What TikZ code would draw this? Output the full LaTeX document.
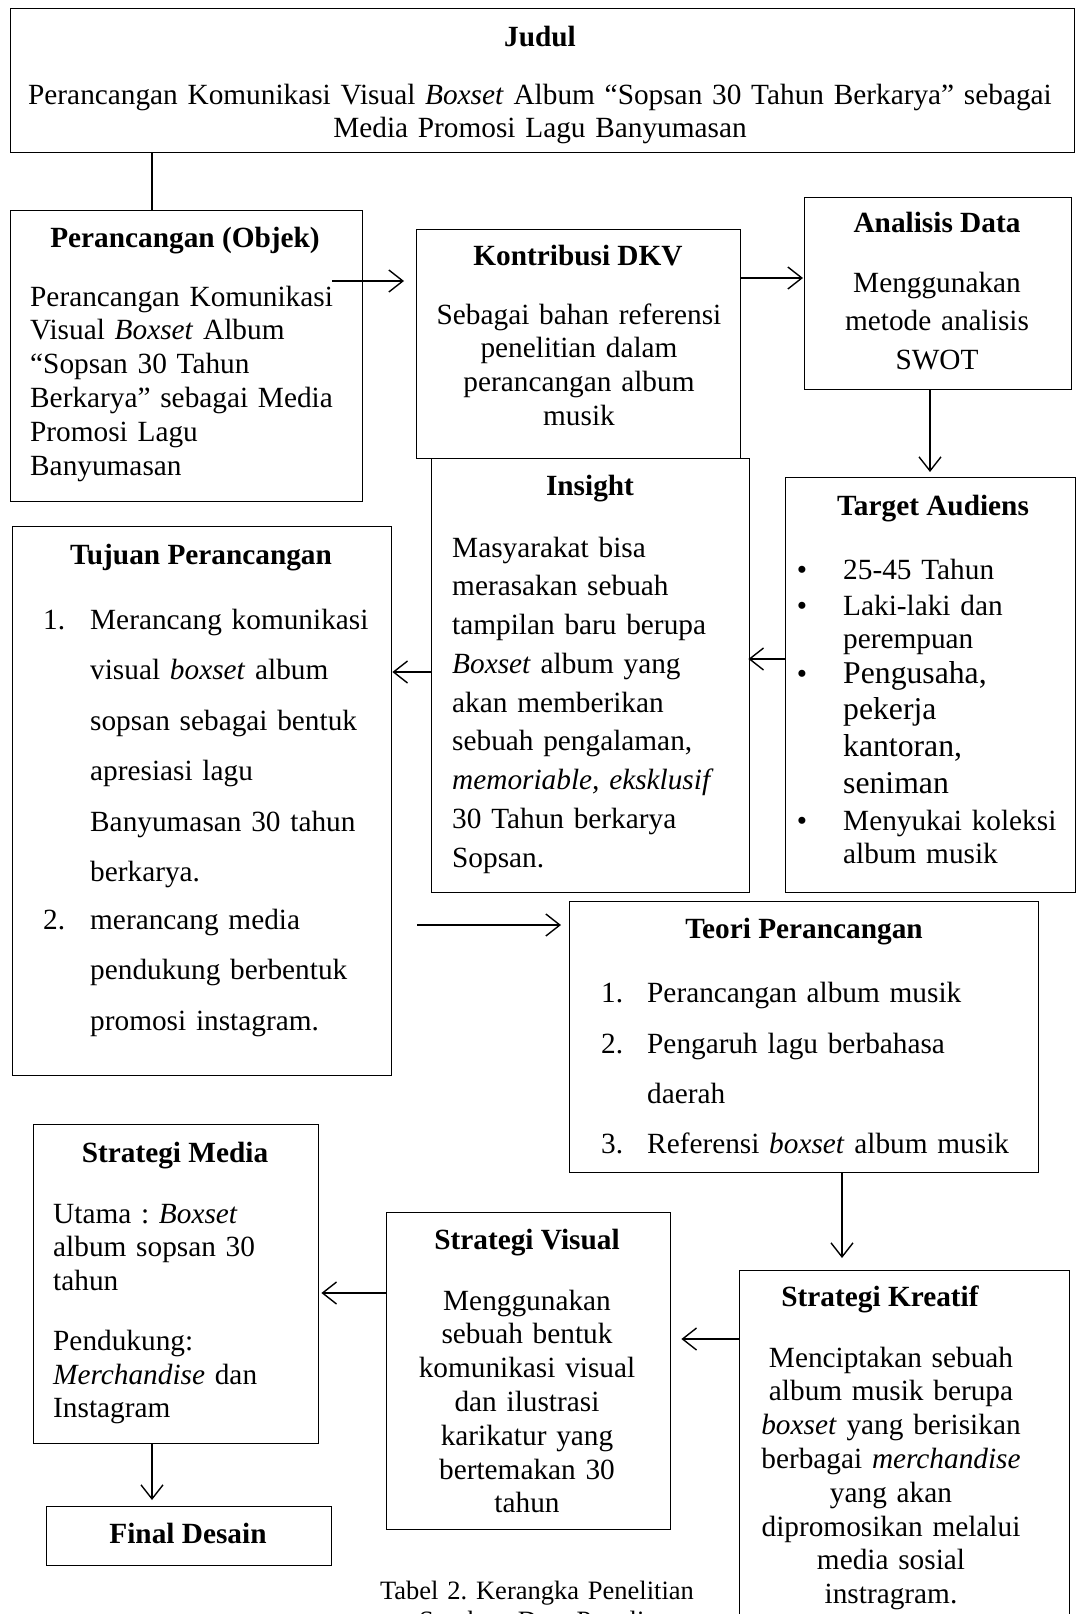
\documentclass[tikz,border=0pt]{standalone}
\usepackage{fontspec}
\setmainfont{Liberation Serif}
\usepackage{tikz}
\usetikzlibrary{positioning, arrows.meta}
\frenchspacing
\newcommand{\ukuran}{\fontsize{29.3}{33.8}\selectfont}
\tikzset{
	kotak/.style 2 args={draw, line width=1.4pt, inner sep=0pt, anchor=north west,
		minimum width=#1, minimum height=#2}
}
\tikzset{
	judulteks/.style={font=\ukuran\bfseries, anchor=base, inner sep=0pt}
}
\tikzset{
	isi/.style={font=\ukuran, anchor=base west, inner sep=0pt, align=left}
}
\tikzset{
	panah/.style={line width=1.4pt, -{Straight Barb[length=14pt,width=22pt,line width=1.4pt]}}
}

\begin{document}
\begin{tikzpicture}[x=1pt, y=-1pt]
      \useasboundingbox (0,0) rectangle (1076,1614);
      % kotak-kotak
      \node[kotak={1064pt}{144pt}] (judul) at (10,8) {};
      \node[kotak={352pt}{291pt}] (objek) at (10,210) {};
      \node[kotak={324pt}{229pt}] (kontribusi) at (416,229) {};
      \node[kotak={267pt}{192pt}] (analisis) at (804,197) {};
      \node[kotak={290pt}{415pt}] (target) at (785,477) {};
      \node[kotak={318pt}{434pt}] (insight) at (431,458) {};
      \node[kotak={379pt}{549pt}] (tujuan) at (12,526) {};
      \node[kotak={469pt}{271pt}] (teori) at (569,901) {};
      \node[kotak={330pt}{400pt}] (kreatif) at (739,1270) {};
      \node[kotak={284pt}{317pt}] (visual) at (386,1212) {};
      \node[kotak={285pt}{319pt}] (media) at (33,1124) {};
      \node[kotak={285pt}{59pt}] (final) at (46,1506) {};

      % judul
      \node[judulteks] (judul-j) at (540,46) {Judul};
      \node[isi, text width=1060pt, align=center, anchor=base] (judul-i) at (540,104)
        {Perancangan Komunikasi Visual \textit{Boxset} Album “Sopsan 30 Tahun Berkarya” sebagai\\
         Media Promosi Lagu Banyumasan};

      \node[judulteks] (objek-j) at (185,247) {Perancangan (Objek)};
      \node[isi, text width=330pt] (objek-i) at (30,306)
        {Perancangan Komunikasi\\Visual \textit{Boxset} Album\\“Sopsan 30 Tahun\\
         Berkarya” sebagai Media\\Promosi Lagu\\Banyumasan};

      \node[judulteks] (kontribusi-j) at (578,265) {Kontribusi DKV};
      \node[isi, text width=310pt, align=center, anchor=base] (kontribusi-i) at (579,324)
        {Sebagai bahan referensi\\penelitian dalam\\perancangan album\\musik};

      \node[judulteks] (analisis-j) at (937,232) {Analisis Data};
      \node[isi, text width=250pt, align=center, anchor=base,
        font=\fontsize{29.3}{38.6}\selectfont] (analisis-i) at (937,292)
        {Menggunakan\\metode analisis\\SWOT};

      \node[judulteks] (target-j) at (933,515) {Target Audiens};
      \foreach \y [count=\i] in {579,615,683,830}
        \node[isi, anchor=base] (target-b\i) at (802,\y) {\textbullet};
      \node[isi, text width=230pt] (target-1) at (843,579) {25-45 Tahun};
      \node[isi, text width=230pt] (target-2) at (843,615) {Laki-laki dan\\perempuan};
      \node[isi, text width=230pt, font=\fontsize{31.7}{36.7}\selectfont] (target-3) at (843,683)
        {Pengusaha,\\pekerja\\kantoran,\\seniman};
      \node[isi, text width=230pt] (target-4) at (843,830) {Menyukai koleksi\\album musik};

      \node[judulteks] (insight-j) at (590,495) {Insight};
      \node[isi, text width=300pt, font=\fontsize{29.3}{38.75}\selectfont] (insight-i) at (452,557)
        {Masyarakat bisa\\merasakan sebuah\\tampilan baru berupa\\\textit{Boxset} album yang\\
         akan memberikan\\sebuah pengalaman,\\\textit{memoriable, eksklusif}\\
         30 Tahun berkarya\\Sopsan.};

      \node[judulteks] (tujuan-j) at (201,564) {Tujuan Perancangan};
      \node[isi] (tujuan-n1) at (43,629) {1.};
      \node[isi] (tujuan-n2) at (43,929) {2.};
      \node[isi, text width=295pt, font=\fontsize{29.3}{50.5}\selectfont] (tujuan-1) at (90,629)
        {Merancang komunikasi\\visual \textit{boxset} album\\sopsan sebagai bentuk\\
         apresiasi lagu\\Banyumasan 30 tahun\\berkarya.};
      \node[isi, text width=295pt, font=\fontsize{29.3}{50.5}\selectfont] (tujuan-2) at (90,929)
        {merancang media\\pendukung berbentuk\\promosi instagram.};

      \node[judulteks] (teori-j) at (804,938) {Teori Perancangan};
      \foreach \y/\n in {1002/1, 1053/2, 1153/3}
        \node[isi] (teori-n\n) at (601,\y) {\n.};
      \node[isi, text width=385pt] (teori-1) at (647,1002) {Perancangan album musik};
      \node[isi, text width=385pt, font=\fontsize{29.3}{50.3}\selectfont] (teori-2) at (647,1053)
        {Pengaruh lagu berbahasa\\daerah};
      \node[isi, text width=385pt] (teori-3) at (647,1153) {Referensi \textit{boxset} album musik};

      \node[judulteks] (kreatif-j) at (880,1306) {Strategi Kreatif};
      \node[isi, text width=320pt, align=center, anchor=base] (kreatif-i) at (891,1367)
        {Menciptakan sebuah\\album musik berupa\\\textit{boxset} yang berisikan\\
         berbagai \textit{merchandise}\\yang akan\\dipromosikan melalui\\media sosial\\instragram.};

      \node[judulteks] (visual-j) at (527,1249) {Strategi Visual};
      \node[isi, text width=270pt, align=center, anchor=base] (visual-i) at (527,1310)
        {Menggunakan\\sebuah bentuk\\komunikasi visual\\dan ilustrasi\\karikatur yang\\
         bertemakan 30\\tahun};

      \node[judulteks] (media-j) at (175,1162) {Strategi Media};
      \node[isi, text width=260pt, font=\fontsize{29.3}{33.5}\selectfont] (media-i) at (53,1223)
        {Utama : \textit{Boxset}\\album sopsan 30\\tahun\\[27pt]
         Pendukung:\\\textit{Merchandise} dan\\Instagram};

      \node[judulteks] (final-j) at (188,1543) {Final Desain};

      \node[isi, text width=400pt, align=center, anchor=base,
        font=\fontsize{26.5}{30}\selectfont] (keterangan) at (537,1599)
        {Tabel 2. Kerangka Penelitian\\Sumber: Data Penulis};

      % penghubung
      \draw[line width=1.4pt] ([xshift=142pt]judul.south west) -- ([xshift=142pt]objek.north west);
      \draw[panah, shorten <=-31pt, shorten >=12pt]
        ([yshift=-71pt]objek.north east) -- ([yshift=-52pt]kontribusi.north west);
      \draw[panah, shorten >=1pt]
        ([yshift=-49pt]kontribusi.north east) -- ([yshift=-81pt]analisis.north west);
      \draw[panah, shorten >=5pt]
        ([xshift=126pt]analisis.south west) -- ([xshift=145pt]target.north west);
      \draw[panah, shorten >=-2pt]
        ([yshift=-182pt]target.north west) -- ([yshift=-201pt]insight.north east);
      \draw[panah]
        ([yshift=-214pt]insight.north west) -- ([yshift=-146pt]tujuan.north east);
      \draw[panah, shorten <=25pt, shorten >=8pt]
        ([yshift=-399pt]tujuan.north east) -- ([yshift=-24pt]teori.north west);
      \draw[panah, shorten >=12pt]
        ([xshift=273pt]teori.south west) -- ([xshift=103pt]kreatif.north west);
      \draw[panah, shorten >=10pt]
        ([yshift=-69pt]kreatif.north west) -- ([yshift=-127pt]visual.north east);
      \draw[panah, shorten >=2pt]
        ([yshift=-81pt]visual.north west) -- ([yshift=-169pt]media.north east);
      \draw[panah, shorten >=6pt]
        ([xshift=119pt]media.south west) -- ([xshift=106pt]final.north west);
    \end{tikzpicture}
\end{document}
